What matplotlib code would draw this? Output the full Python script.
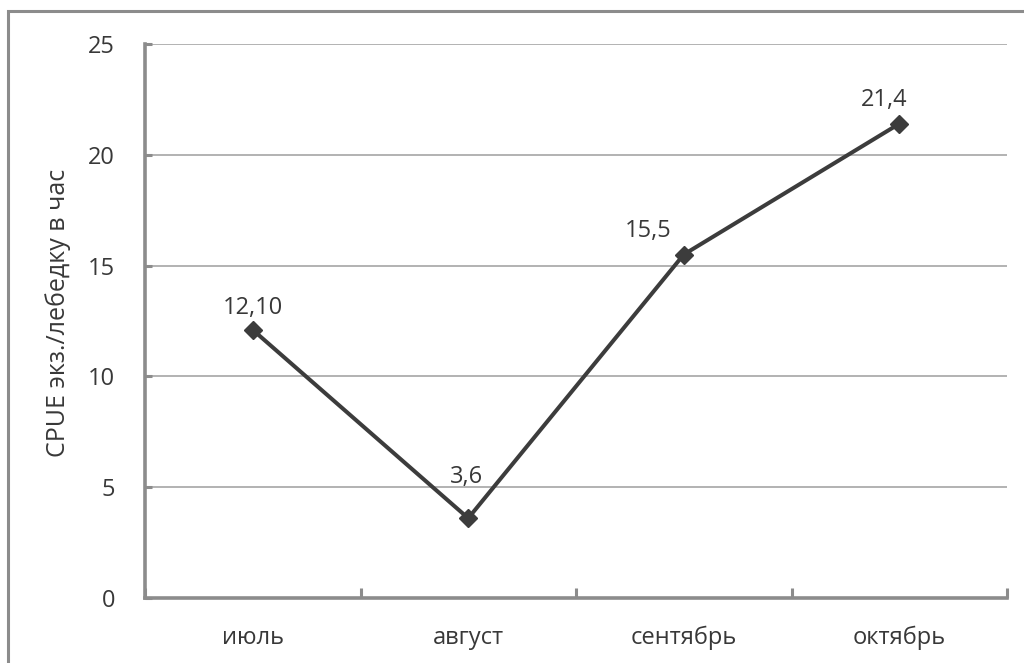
import matplotlib
matplotlib.use("Agg")
import matplotlib.pyplot as plt
from matplotlib.patches import Rectangle

months = ["июль", "август", "сентябрь", "октябрь"]
cpue = [12.1, 3.6, 15.5, 21.4]
point_labels = ["12,10", "3,6", "15,5", "21,4"]
yticks = [0, 5, 10, 15, 20, 25]
ylabel = "CPUE экз./лебедку в час"

plt.rcParams['font.family'] = ['Open Sans', 'DejaVu Sans']
W, H = 1024, 663
fig = plt.figure(figsize=(W / 100, H / 100), dpi=100)
fig.patches.append(Rectangle((8 / W, -0.1), 1.2, (H - 11) / H + 0.1, transform=fig.transFigure,
                             fill=False, edgecolor='#8c8c8c', linewidth=2.2))
ax = fig.add_axes([145 / W, (H - 598) / H, (1007 - 145) / W, (598 - 44) / H])

x = list(range(len(months)))
ax.plot(x, cpue, color='#3c3c3c', linewidth=2.9, marker='D', markersize=9,
        markerfacecolor='#3c3c3c', markeredgecolor='#3c3c3c', zorder=3, clip_on=False)
px = 0.72  # points per pixel
offsets_px = [(0, 16), (-2, 35), (-36, 18), (-15, 18)]
for xi, v, lab, (dx, dy) in zip(x, cpue, point_labels, offsets_px):
    ax.annotate(lab, (xi, v), xytext=(dx * px, dy * px), textcoords='offset points',
                ha='center', va='baseline', fontsize=17, color='#383838')

ax.set_xlim(-0.5, len(months) - 0.5)
ax.set_ylim(0, 25)
ax.set_yticks(yticks)
ax.set_yticklabels([str(t) for t in yticks], fontsize=17, color='#383838')
ax.yaxis.grid(True, color='#a6a6a6', linewidth=1.2)
ax.set_axisbelow(True)
ax.set_xticks(x)
ax.set_xticklabels(months, fontsize=17, color='#383838')
ax.tick_params(axis='x', length=0, pad=20)
ax.set_xticks([i - 0.5 for i in range(len(months) + 1)], minor=True)
ax.tick_params(axis='x', which='minor', direction='in', length=7, width=2.2, color='#8c8c8c')
ax.tick_params(axis='y', direction='in', length=5, width=2.2, color='#8c8c8c', pad=30 * px)
for s in ['top', 'right']:
    ax.spines[s].set_visible(False)
for s in ['left', 'bottom']:
    ax.spines[s].set_color('#8c8c8c')
    ax.spines[s].set_linewidth(2.6)

fig.text(58 / W, 1 - 313 / H, ylabel, rotation=90, ha='center', va='center',
         fontsize=18, color='#383838')

fig.savefig("out.png", dpi=100)
